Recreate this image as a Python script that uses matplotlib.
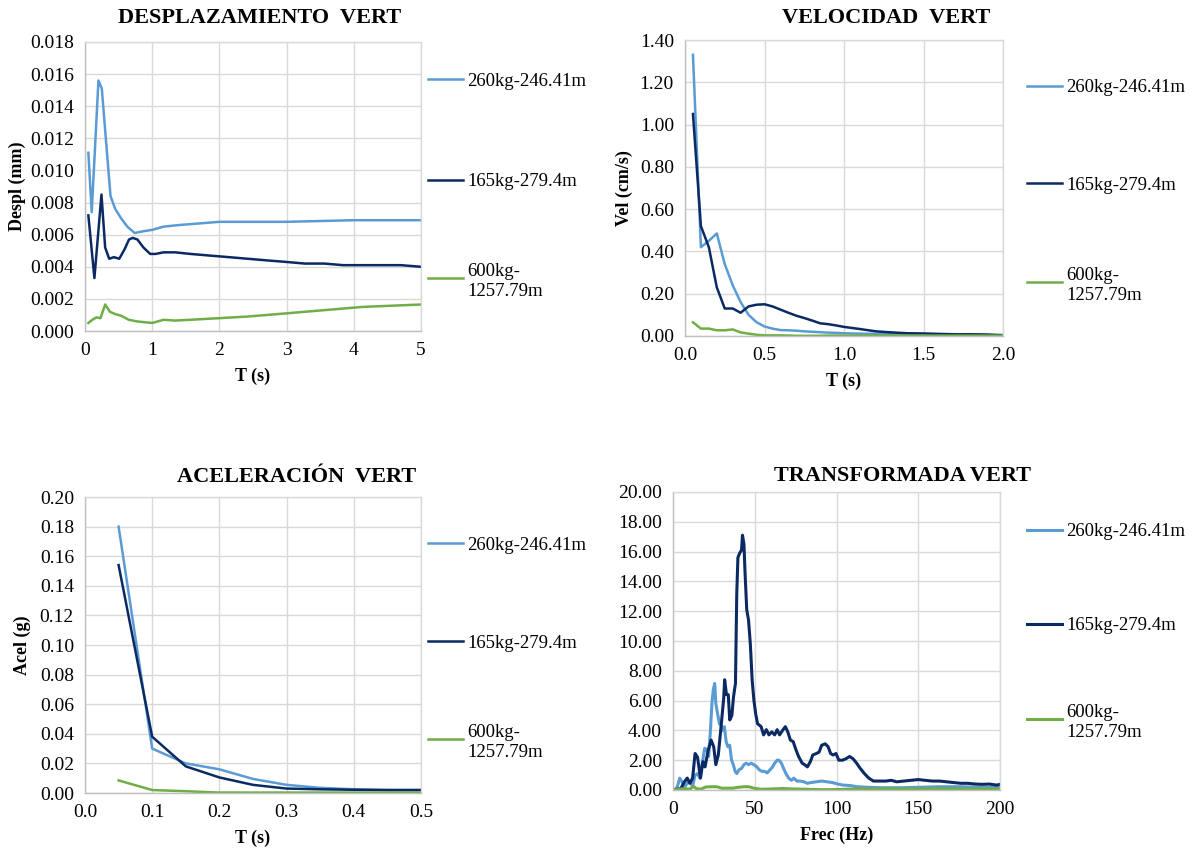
import matplotlib
matplotlib.use("Agg")
import matplotlib.pyplot as plt
from matplotlib.lines import Line2D
from matplotlib.ticker import FormatStrFormatter

plt.rcParams["font.family"] = ["Liberation Serif", "DejaVu Serif"]

labels = ["260kg-246.41m", "165kg-279.4m", "600kg-\n1257.79m"]
colors = ["#5B9BD5", "#0B2A63", "#70AD47"]

# --- Desplazamiento (mm) vs T (s)
desp_t_a = [0.05, 0.1, 0.2, 0.25, 0.3, 0.38, 0.45, 0.54, 0.63, 0.74, 0.85, 1.0, 1.17,
            1.4, 1.7, 2.0, 2.4, 3.0, 3.5, 4.0, 5.0]
desp_a = [0.0111, 0.0074, 0.0156, 0.0151, 0.0125, 0.0084, 0.0076, 0.0070, 0.0065, 0.0061,
          0.0062, 0.0063, 0.0065, 0.0066, 0.0067, 0.0068, 0.0068, 0.0068, 0.00685, 0.0069, 0.0069]
desp_t_b = [0.05, 0.14, 0.245, 0.3, 0.36, 0.43, 0.51, 0.59, 0.655, 0.71, 0.78, 0.87, 0.97,
            1.05, 1.17, 1.34, 1.57, 1.85, 2.14, 2.42, 2.7, 3.0, 3.27, 3.56, 3.84, 4.13, 4.41,
            4.7, 5.0]
desp_b = [0.0072, 0.0033, 0.0085, 0.0052, 0.0045, 0.0046, 0.0045, 0.0051, 0.0057, 0.0058,
          0.0057, 0.0052, 0.0048, 0.0048, 0.0049, 0.0049, 0.0048, 0.0047, 0.0046, 0.0045,
          0.0044, 0.0043, 0.0042, 0.0042, 0.0041, 0.0041, 0.0041, 0.0041, 0.0040]
desp_t_c = [0.05, 0.11, 0.17, 0.23, 0.3, 0.37, 0.45, 0.54, 0.65, 0.77, 0.88, 1.0, 1.17,
            1.34, 1.57, 2.0, 2.42, 3.0, 3.56, 4.13, 5.0]
desp_c = [0.0005, 0.0007, 0.00085, 0.0008, 0.00165, 0.0012, 0.00105, 0.00095, 0.0007, 0.0006,
          0.00055, 0.0005, 0.0007, 0.00065, 0.0007, 0.0008, 0.0009, 0.0011, 0.0013, 0.0015, 0.00165]

# --- Velocidad (cm/s) vs T (s)
vel_t = [0.05, 0.1, 0.15, 0.2, 0.25, 0.3, 0.35, 0.4, 0.45, 0.5, 0.55, 0.6, 0.65, 0.7, 0.75,
         0.8, 0.85, 0.9, 0.95, 1.0, 1.1, 1.2, 1.3, 1.4, 1.5, 1.6, 1.7, 1.8, 1.9, 2.0]
vel_a = [1.33, 0.42, 0.45, 0.485, 0.34, 0.24, 0.16, 0.10, 0.065, 0.045, 0.035, 0.028, 0.027,
         0.025, 0.022, 0.02, 0.018, 0.016, 0.015, 0.013, 0.011, 0.01, 0.009, 0.008, 0.007,
         0.006, 0.005, 0.005, 0.004, 0.003]
vel_b = [1.05, 0.52, 0.42, 0.23, 0.13, 0.13, 0.11, 0.14, 0.148, 0.15, 0.14, 0.125, 0.11,
         0.096, 0.085, 0.073, 0.06, 0.056, 0.05, 0.043, 0.033, 0.022, 0.017, 0.013, 0.012,
         0.01, 0.008, 0.008, 0.007, 0.004]
vel_c = [0.065, 0.035, 0.035, 0.027, 0.027, 0.031, 0.017, 0.011, 0.006, 0.003, 0.003, 0.003,
         0.002, 0.001, 0.001, 0.001, 0.001, 0.002, 0.002, 0.002, 0.002, 0.002, 0.002, 0.002,
         0.002, 0.002, 0.002, 0.002, 0.002, 0.002]

# --- Aceleracion (g) vs T (s)
acel_t = [0.05, 0.1, 0.15, 0.2, 0.25, 0.3, 0.35, 0.4, 0.45, 0.5]
acel_a = [0.180, 0.030, 0.020, 0.016, 0.0095, 0.0055, 0.0035, 0.0025, 0.002, 0.002]
acel_b = [0.154, 0.038, 0.018, 0.0105, 0.0055, 0.003, 0.0025, 0.0022, 0.002, 0.002]
acel_c = [0.0085, 0.002, 0.0012, 0.0003, 0.0003, 0.0003, 0.0003, 0.0003, 0.0003, 0.0003]

# --- Transformada vs Frec (Hz)
tf_f_a = [1, 2.6, 4.1, 5.5, 7, 8.7, 10.3, 12, 13.5, 15, 16.4, 17.9, 19.4, 20.7, 21.8, 22.9,
          23.8, 24.6, 25.5, 26.2, 27.3, 28.4, 29.4, 30.3, 31.4, 32.5, 33.6, 34.7, 35.8, 36.9,
          38, 39, 40.3, 41.9, 43.4, 44.7, 46.2, 47.8, 49.5, 51.3, 52.8, 54.5, 56.1, 57.6,
          59.3, 60.9, 62.2, 63.7, 64.8, 66.3, 67.6, 69.1, 70.7, 72.4, 73.9, 75.7, 77.9, 80,
          82.2, 84.4, 87.7, 90.9, 94.2, 97.5, 100.8, 104, 108.4, 112.8, 119.3, 128, 139, 150,
          163, 176, 189, 200]
tf_a = [0, 0.2, 0.8, 0.55, 0.2, 0.45, 0.55, 0.25, 1.0, 1.1, 0.8, 1.8, 2.8, 2.7, 2.25, 4.0,
        5.8, 6.7, 7.15, 5.8, 5.1, 4.45, 4.35, 4.0, 4.25, 3.25, 2.9, 3.0, 2.0, 1.7, 1.25, 1.1,
        1.35, 1.45, 1.7, 1.8, 1.7, 1.8, 1.7, 1.55, 1.35, 1.25, 1.25, 1.15, 1.35, 1.55, 1.8,
        2.0, 2.0, 1.8, 1.45, 1.1, 0.8, 0.65, 0.8, 0.6, 0.6, 0.55, 0.45, 0.5, 0.55, 0.6, 0.55,
        0.5, 0.4, 0.33, 0.3, 0.22, 0.18, 0.15, 0.15, 0.18, 0.22, 0.22, 0.18, 0.18]
tf_f_b = [1, 4.8, 7, 8.7, 10.3, 12, 13.5, 15, 16.8, 18.3, 19.6, 21.6, 23.3, 24.9, 26.2, 27.7,
          29.4, 31, 31.6, 32.7, 33.8, 34.7, 36, 37, 38.2, 39, 39.7, 40.8, 41.9, 42.5, 43.4,
          44, 45.1, 46.2, 47.3, 48.4, 49.5, 50.6, 51.7, 53.9, 55.4, 57.1, 58.7, 60.4, 62.2,
          63.7, 65.2, 67, 68.7, 70.2, 71.8, 73.5, 75.2, 76.8, 79, 80.5, 82.2, 84, 85.5, 87.7,
          89.4, 90.9, 93.1, 94.9, 96.4, 97.9, 99.7, 101.4, 103.6, 105.8, 108, 110.1, 112.3,
          114.5, 117.1, 119.7, 122.6, 125.8, 130.2, 133.5, 136.8, 141.1, 145.5, 150, 154.2,
          158.6, 163, 167.3, 171.6, 176, 180.4, 184.7, 189, 193.5, 197.8, 200]
tf_b = [0, 0.1, 0.55, 0.8, 0.45, 0.8, 2.45, 2.2, 0.8, 1.9, 1.55, 2.7, 3.35, 2.9, 1.7, 2.35,
        4.25, 6.15, 7.4, 6.4, 6.4, 4.7, 5.0, 6.25, 7.15, 13.2, 15.6, 15.9, 16.1, 17.1, 16.5,
        14.75, 12.1, 11.4, 9.8, 7.4, 6.0, 5.1, 4.45, 4.25, 3.7, 4.05, 3.7, 3.9, 3.7, 4.05,
        3.7, 4.0, 4.25, 3.9, 3.35, 3.25, 2.7, 2.25, 1.8, 1.7, 1.55, 1.9, 2.35, 2.45, 2.55,
        3.0, 3.1, 2.9, 2.45, 2.35, 2.45, 2.0, 2.0, 2.1, 2.25, 2.1, 1.8, 1.45, 1.1, 0.8, 0.6,
        0.6, 0.6, 0.65, 0.55, 0.6, 0.65, 0.7, 0.65, 0.6, 0.6, 0.55, 0.5, 0.45, 0.45, 0.4,
        0.38, 0.4, 0.33, 0.38]
tf_f_c = [1, 3.7, 7, 10.3, 12.4, 14.2, 16.8, 20, 23.3, 26.6, 29.9, 33.2, 36.4, 39.7, 43.4,
          46.2, 49.5, 53.9, 60.4, 67, 73.5, 82.2, 91, 99.7, 110.6, 132.4, 154, 176, 200]
tf_c = [0, 0.05, 0.1, 0.05, 0.25, 0.1, 0.05, 0.2, 0.22, 0.22, 0.12, 0.12, 0.12, 0.18, 0.22,
        0.22, 0.12, 0.05, 0.07, 0.1, 0.07, 0.05, 0.02, 0.03, 0.07, 0.07, 0.07, 0.07, 0.07]

W, H = 1198, 856
fig = plt.figure(figsize=(W / 100, H / 100), dpi=100)


def px_axes(left, top, right, bottom):
    return fig.add_axes([left / W, 1 - bottom / H, (right - left) / W, (bottom - top) / H])


def style_axes(ax, xlim, ylim, xticks, yticks, xfmt, yfmt, xlabel, ylabel, ylab_x):
    ax.set_xlim(*xlim)
    ax.set_ylim(*ylim)
    ax.set_xticks(xticks)
    ax.set_yticks(yticks)
    ax.xaxis.set_major_formatter(FormatStrFormatter(xfmt))
    ax.yaxis.set_major_formatter(FormatStrFormatter(yfmt))
    ax.grid(True, color="#D9D9D9", lw=1.0)
    ax.set_axisbelow(True)
    for s in ax.spines.values():
        s.set_color("#D9D9D9")
        s.set_linewidth(1.0)
    ax.spines["left"].set_color("#BFBFBF")
    ax.spines["bottom"].set_color("#BFBFBF")
    ax.tick_params(length=0, labelsize=14, pad=8)
    ax.set_xlabel(xlabel, fontsize=13, fontweight="bold", labelpad=6)
    ax.set_ylabel(ylabel, fontsize=13, fontweight="bold")
    ax.yaxis.set_label_coords(ylab_x, 0.5)


def side_legend(handle_x, ys, lw):
    for lab, col, y in zip(labels, colors, ys):
        fig.add_artist(Line2D([handle_x / W, (handle_x + 35) / W], [1 - y / H, 1 - y / H],
                              transform=fig.transFigure, color=col, lw=lw))
        fig.text((handle_x + 39) / W, 1 - y / H, lab, fontsize=13.5, va="center_baseline",
                 ha="left", linespacing=1.25)


def title(text, cx, cy):
    fig.text(cx / W, 1 - cy / H, text, fontsize=16, fontweight="bold", ha="center", va="center")


# Panel 1
ax1 = px_axes(85, 42, 421, 331)
ax1.plot(desp_t_a, desp_a, color=colors[0], lw=1.8)
ax1.plot(desp_t_b, desp_b, color=colors[1], lw=1.8)
ax1.plot(desp_t_c, desp_c, color=colors[2], lw=1.8)
style_axes(ax1, (0, 5), (0, 0.018), range(0, 6), [i * 0.002 for i in range(10)],
           "%d", "%.3f", "T (s)", "Despl (mm)", -0.175)
title("DESPLAZAMIENTO  VERT", 260, 18)
side_legend(428, [79, 180, 278], 1.8)

# Panel 2
ax2 = px_axes(685, 40, 1003, 336)
ax2.plot(vel_t, vel_a, color=colors[0], lw=1.8)
ax2.plot(vel_t, vel_b, color=colors[1], lw=1.8)
ax2.plot(vel_t, vel_c, color=colors[2], lw=1.8)
style_axes(ax2, (0, 2), (0, 1.4), [0, 0.5, 1.0, 1.5, 2.0], [i * 0.2 for i in range(8)],
           "%.1f", "%.2f", "T (s)", "Vel (cm/s)", -0.165)
title("VELOCIDAD  VERT", 886, 18)
side_legend(1027, [86, 183, 282], 1.8)

# Panel 3
ax3 = px_axes(85, 497, 421, 793)
ax3.plot(acel_t, acel_a, color=colors[0], lw=1.8)
ax3.plot(acel_t, acel_b, color=colors[1], lw=1.8)
ax3.plot(acel_t, acel_c, color=colors[2], lw=1.8)
style_axes(ax3, (0, 0.5), (0, 0.2), [0, 0.1, 0.2, 0.3, 0.4, 0.5], [i * 0.02 for i in range(11)],
           "%.1f", "%.2f", "T (s)", "Acel (g)", -0.16)
title("ACELERACIÓN  VERT", 297, 477)
side_legend(428, [543, 641, 739], 1.8)

# Panel 4
ax4 = px_axes(673, 492, 1000, 790)
ax4.plot(tf_f_a, tf_a, color=colors[0], lw=2.2)
ax4.plot(tf_f_b, tf_b, color=colors[1], lw=2.2)
ax4.plot(tf_f_c, tf_c, color=colors[2], lw=2.2)
style_axes(ax4, (0, 200), (0, 20), [0, 50, 100, 150, 200], [i * 2 for i in range(11)],
           "%d", "%.2f", "Frec (Hz)", "", -0.19)
title("TRANSFORMADA VERT", 902, 476)
side_legend(1027, [530, 624, 719], 2.2)

fig.savefig("out.png", dpi=100)
